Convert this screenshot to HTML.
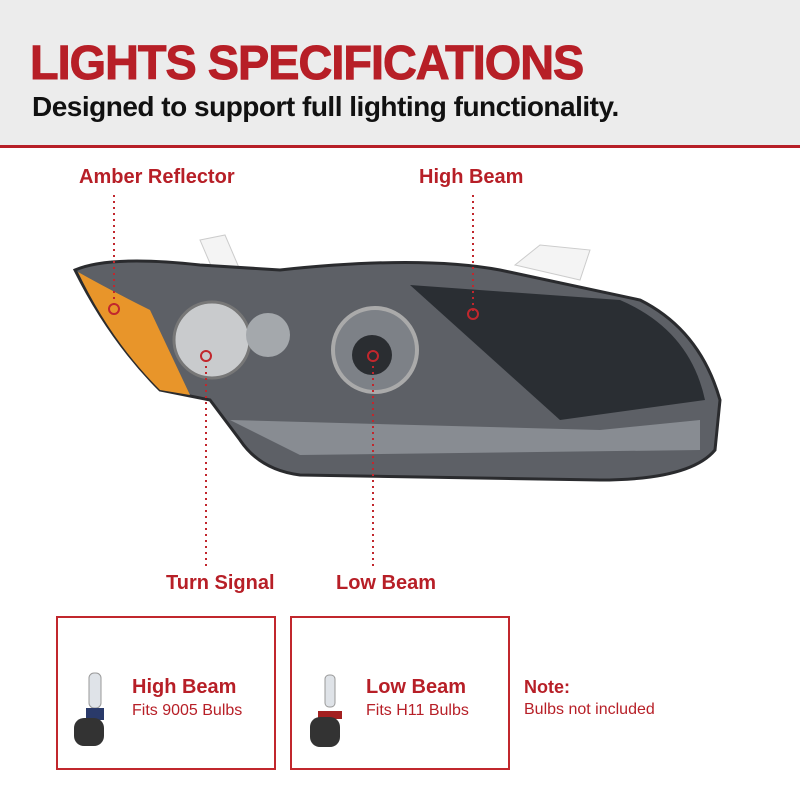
<!DOCTYPE html>
<html><head><style>
body{margin:0;width:800px;height:800px;background:#fff;position:relative;overflow:hidden;font-family:"Liberation Sans",sans-serif}
.hdr{position:absolute;left:0;top:0;width:800px;height:145px;background:#ececec;border-bottom:3px solid #b71f27}
.t1{position:absolute;left:30px;top:36px;font-size:48px;font-weight:bold;color:#b71f27;letter-spacing:-1px;transform:scaleX(0.975);transform-origin:left;-webkit-text-stroke:1px #b71f27}
.t2{position:absolute;left:32px;top:91px;font-size:28px;font-weight:bold;color:#111;letter-spacing:-0.5px}
.lbl{position:absolute;font-size:20px;font-weight:bold;color:#b71f27}
.box{position:absolute;top:616px;width:216px;height:150px;border:2px solid #c1272d}
.bt{position:absolute;left:74px;top:58px;font-size:20px;font-weight:bold;color:#b71f27}
.bs{position:absolute;left:74px;top:84px;font-size:16px;color:#b71f27}
</style></head><body>
<div class="hdr"></div>
<div class="t1">LIGHTS SPECIFICATIONS</div>
<div class="t2">Designed to support full lighting functionality.</div>
<div class="lbl" style="left:79px;top:166px">Amber Reflector</div>
<div class="lbl" style="left:419px;top:166px">High Beam</div>
<div class="lbl" style="left:166px;top:572px">Turn Signal</div>
<div class="lbl" style="left:336px;top:572px">Low Beam</div>
<svg width="800" height="800" style="position:absolute;left:0;top:0">
<polygon points="200,240 225,235 240,270 215,275" fill="#f4f4f4" stroke="#ccc"/>
<polygon points="515,265 540,245 590,250 580,280" fill="#f4f4f4" stroke="#ccc"/>
<path d="M75,270 Q110,255 200,265 L280,270 Q420,255 500,270 L640,300 Q700,330 720,400 L715,450 Q690,480 600,480 L300,475 Q260,470 240,440 L210,400 L160,390 Q110,340 75,270 Z" fill="#5d6066" stroke="#2a2b2e" stroke-width="3"/>
<path d="M78,272 Q110,290 150,310 L190,395 L160,390 Q110,340 78,272 Z" fill="#e8952a"/>
<path d="M410,285 L620,300 Q690,330 705,400 L560,420 Z" fill="#2a2e33"/>
<circle cx="212" cy="340" r="38" fill="#c9cbcd" stroke="#777" stroke-width="3"/>
<circle cx="268" cy="335" r="22" fill="#a4a8ac"/>
<circle cx="375" cy="350" r="42" fill="#7d8187" stroke="#aaa" stroke-width="4"/>
<circle cx="372" cy="355" r="20" fill="#2a2d31"/>
<path d="M230,420 L600,430 L700,420 L700,450 L300,455 Z" fill="#888c92"/>
<g fill="none" stroke="#c1272d" stroke-width="2" stroke-dasharray="2,4">
<line x1="114" y1="195" x2="114" y2="305"/>
<line x1="473" y1="195" x2="473" y2="312"/>
<line x1="206" y1="360" x2="206" y2="570"/>
<line x1="373" y1="360" x2="373" y2="570"/>
</g>
<g fill="none" stroke="#c1272d" stroke-width="2">
<circle cx="114" cy="309" r="5"/><circle cx="473" cy="314" r="5"/>
<circle cx="206" cy="356" r="5"/><circle cx="373" cy="356" r="5"/>
</g>
</svg>
<div class="box" style="left:56px">
<svg width="60" height="100" style="position:absolute;left:10px;top:35px"><rect x="21" y="20" width="12" height="35" rx="5" fill="#dfe3e8" stroke="#999"/><rect x="18" y="55" width="18" height="12" fill="#2a3a6a"/><rect x="6" y="65" width="30" height="28" rx="10" fill="#333"/></svg>
<div class="bt">High Beam</div><div class="bs">Fits 9005 Bulbs</div></div>
<div class="box" style="left:290px">
<svg width="60" height="100" style="position:absolute;left:10px;top:35px"><rect x="23" y="22" width="10" height="32" rx="4" fill="#dfe3e8" stroke="#999"/><rect x="16" y="58" width="24" height="8" fill="#a32020"/><rect x="8" y="64" width="30" height="30" rx="10" fill="#333"/></svg>
<div class="bt">Low Beam</div><div class="bs">Fits H11 Bulbs</div></div>
<div style="position:absolute;left:524px;top:677px;font-size:18px;font-weight:bold;color:#b71f27">Note:</div>
<div style="position:absolute;left:524px;top:701px;font-size:16px;color:#b71f27">Bulbs not included</div>
</body></html>
